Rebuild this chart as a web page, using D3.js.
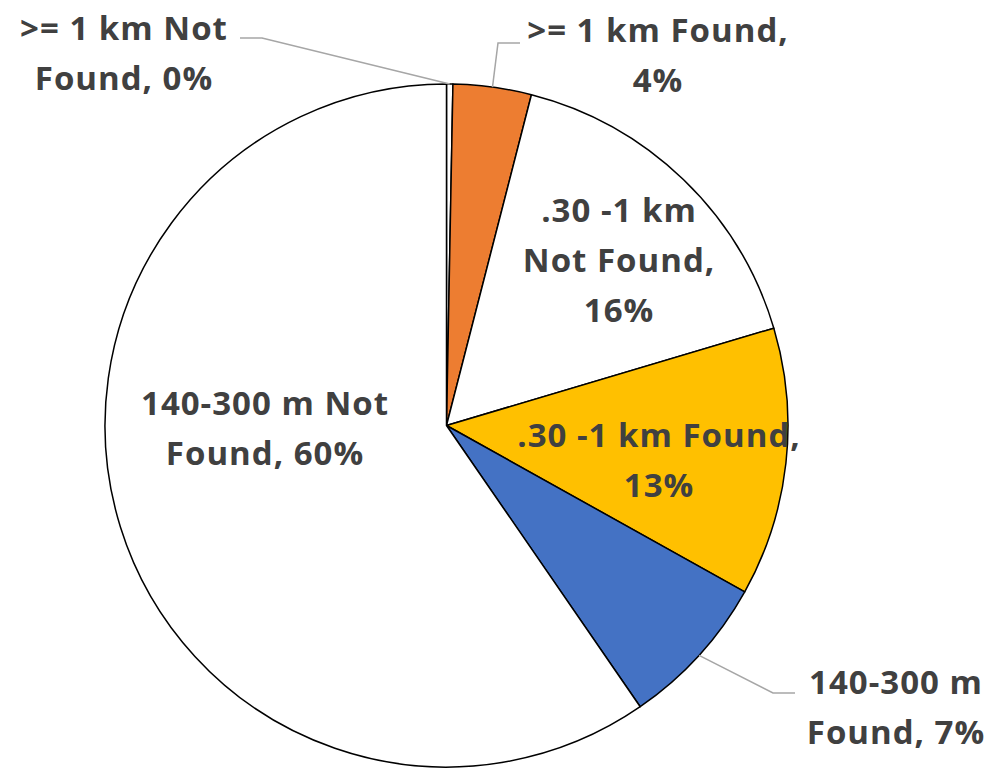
<!DOCTYPE html>
<html>
<head>
<meta charset="utf-8">
<script src="https://d3js.org/d3.v7.min.js"></script>
<style>
body { margin: 0; background: #fff; }
.lbl { font-family: "Open Sans", sans-serif; font-weight: 700; font-size: 33px; letter-spacing: 1px; fill: #404040; }
</style>
</head>
<body>
<svg id="chart"></svg>
<script>
// data (percent of total)
var categories = [">= 1 km Not Found", ">= 1 km Found", ".30 -1 km Not Found",
                  ".30 -1 km Found", "140-300 m Found", "140-300 m Not Found"];
var values = [0.3, 3.7, 16.4, 12.7, 7.3, 59.6];
var colors = ["#ffffff", "#ED7D31", "#ffffff", "#FFC000", "#4472C4", "#ffffff"];

var width = 998, height = 769;
var cx = 446.5, cy = 425.5, r = 341.5;

// label layout: centre x, first baseline, words per line
var labelPos = [
  {x: 124, y: 40, lines: [4, 2]},
  {x: 658, y: 42, lines: [4, 1]},
  {x: 619, y: 222, lines: [3, 2, 1]},
  {x: 659, y: 447, lines: [4, 1]},
  {x: 896, y: 694, lines: [2, 2]},
  {x: 265, y: 415, lines: [3, 2]}
];
var lineH = 50;

// leader lines: elbow points from the label towards the slice
var leaders = {
  0: [[240, 38], [262, 38]],
  1: [[520, 43], [498, 43]],
  4: [[795, 693], [773, 693]]
};

var svg = d3.select("#chart").attr("width", width).attr("height", height);
var g = svg.append("g").attr("transform", "translate(" + cx + "," + cy + ")");

var total = d3.sum(values);
var pie = d3.pie().sort(null).value(function(d) { return d; });
var arcs = pie(values);
var arc = d3.arc().innerRadius(0).outerRadius(r);
var edge = d3.arc().innerRadius(r).outerRadius(r);

g.selectAll("path.slice")
  .data(arcs)
  .enter().append("path")
  .attr("class", "slice")
  .attr("d", arc)
  .attr("fill", function(d, i) { return colors[i]; })
  .attr("stroke", "#000")
  .attr("stroke-width", 1.5)
  .attr("stroke-linejoin", "round");

// leader lines
var line = d3.line();
Object.keys(leaders).forEach(function(k) {
  var c = edge.centroid(arcs[k]);
  var pts = leaders[k].concat([[c[0] + cx, c[1] + cy]]);
  svg.append("path")
    .attr("d", line(pts))
    .attr("fill", "none")
    .attr("stroke", "#a6a6a6")
    .attr("stroke-width", 1.5);
});

// labels
categories.forEach(function(name, i) {
  var pct = Math.round(values[i] / total * 100);
  var words = (name + ", " + pct + "%").split(" ");
  var p = labelPos[i];
  var t = svg.append("text").attr("class", "lbl").attr("text-anchor", "middle");
  var w = 0;
  p.lines.forEach(function(n, j) {
    t.append("tspan")
      .attr("x", p.x)
      .attr("y", p.y + j * lineH)
      .text(words.slice(w, w + n).join(" "));
    w += n;
  });
});
</script>
</body>
</html>
